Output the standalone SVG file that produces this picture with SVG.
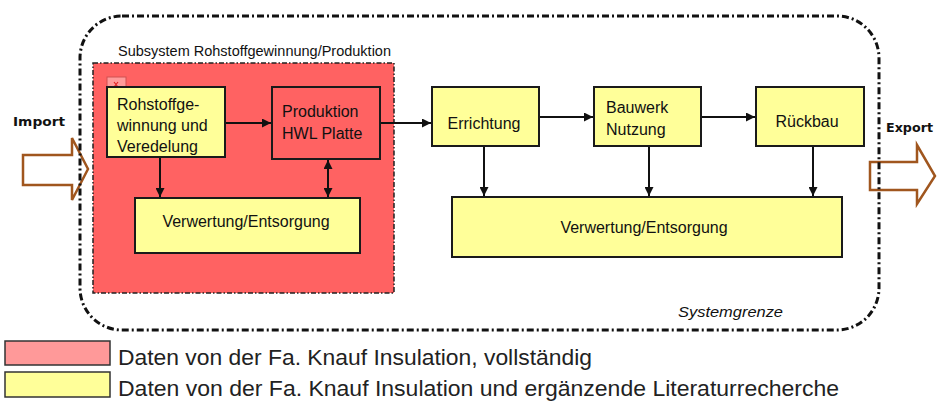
<svg xmlns="http://www.w3.org/2000/svg" width="938" height="401" viewBox="0 0 938 401">
<style>
.t{font-family:"Liberation Sans",Arial,sans-serif;font-size:16px;fill:#111}
.b{font-family:"DejaVu Sans",Verdana,sans-serif;font-size:12.5px;font-weight:bold;fill:#111}
.box{stroke:#1a1a1a;stroke-width:2}
.y{fill:#FFFF99}
.r{fill:#FF6262}
.c{stroke:#111;stroke-width:2;fill:none}
.io{fill:none;stroke:#A0561E;stroke-width:2.5;stroke-linejoin:miter}
.leg{font-family:"Liberation Sans",Arial,sans-serif;font-size:22px;fill:#222}
</style>
<defs>
<marker id="ah" viewBox="0 0 10 10" refX="10" refY="5" markerWidth="4.5" markerHeight="4.5" orient="auto-start-reverse" markerUnits="strokeWidth">
<path d="M0,0 L10,5 L0,10 z" fill="#111"/>
</marker>
</defs>
<rect width="938" height="401" fill="#fff"/>

<g id="import">
<polygon class="io" points="23,155 72,155 72,138 88,169 72,200 72,185 23,185"/>
<text class="b" x="13" y="126" textLength="52" lengthAdjust="spacingAndGlyphs">Import</text>
</g>
<g id="export">
<polygon class="io" points="870,162 917,162 917,145 935,176 917,204 917,190 870,190"/>
<text class="b" x="886" y="132" textLength="47" lengthAdjust="spacingAndGlyphs">Export</text>
</g>

<g id="systemgrenze">
<rect x="80" y="16" width="799" height="314" rx="42" ry="42" fill="none" stroke="#111" stroke-width="3" stroke-dasharray="7 3 2 3"/>
<text x="678" y="317" font-family="Liberation Sans,Arial,sans-serif" font-style="italic" font-size="14" fill="#111" textLength="105" lengthAdjust="spacingAndGlyphs">Systemgrenze</text>
</g>

<g id="subsystem">
<rect x="93" y="63" width="301" height="230" fill="#FF6262" stroke="#222" stroke-width="1.5" stroke-dasharray="5 2 1.5 2"/>
<text x="118" y="56" font-family="Liberation Sans,Arial,sans-serif" font-size="14" fill="#111" textLength="273" lengthAdjust="spacingAndGlyphs">Subsystem Rohstoffgewinnung/Produktion</text>
<rect x="107" y="77" width="19" height="19" fill="#FF9A9A" stroke="#D05050" stroke-width="1"/>
<path d="M114,82 L118,87 M118,82 L114,87" stroke="#E02020" stroke-width="1.2"/>
</g>

<g id="connectors">
<line class="c" x1="225" y1="123" x2="271" y2="123" marker-end="url(#ah)"/>
<line class="c" x1="380" y1="123" x2="431" y2="123" marker-end="url(#ah)"/>
<line class="c" x1="539" y1="117" x2="593" y2="117" marker-end="url(#ah)"/>
<line class="c" x1="701" y1="117" x2="755" y2="117" marker-end="url(#ah)"/>
<line class="c" x1="160" y1="157" x2="160" y2="197" marker-end="url(#ah)"/>
<line class="c" x1="328" y1="160" x2="328" y2="197" marker-start="url(#ah)" marker-end="url(#ah)"/>
<line class="c" x1="484" y1="146" x2="484" y2="196" marker-end="url(#ah)"/>
<line class="c" x1="649" y1="146" x2="649" y2="196" marker-end="url(#ah)"/>
<line class="c" x1="813" y1="146" x2="813" y2="196" marker-end="url(#ah)"/>
</g>

<g id="rohstoff">
<rect class="box y" x="107" y="87" width="118" height="70"/>
<text class="t" x="117" y="110">Rohstoffge-</text>
<text class="t" x="117" y="131">winnung und</text>
<text class="t" x="117" y="152">Veredelung</text>
</g>
<g id="produktion">
<rect class="box r" x="272" y="87" width="108" height="72"/>
<text class="t" x="282" y="117">Produktion</text>
<text class="t" x="282" y="139">HWL Platte</text>
</g>
<g id="verwertung1">
<rect class="box y" x="135" y="198" width="225" height="55"/>
<text class="t" x="246" y="227" text-anchor="middle">Verwertung/Entsorgung</text>
</g>
<g id="errichtung">
<rect class="box y" x="432" y="87" width="107" height="59"/>
<text class="t" x="484" y="129" text-anchor="middle">Errichtung</text>
</g>
<g id="bauwerk">
<rect class="box y" x="594" y="87" width="107" height="59"/>
<text class="t" x="606" y="113">Bauwerk</text>
<text class="t" x="606" y="135">Nutzung</text>
</g>
<g id="rueckbau">
<rect class="box y" x="756" y="87" width="108" height="59"/>
<text class="t" x="807" y="127" text-anchor="middle">Rückbau</text>
</g>
<g id="verwertung2">
<rect class="box y" x="452" y="197" width="390" height="60"/>
<text class="t" x="644" y="233" text-anchor="middle">Verwertung/Entsorgung</text>
</g>

<g id="legende">
<rect x="5" y="341" width="105" height="24" fill="#FF9999" stroke="#333" stroke-width="1.5"/>
<text class="leg" x="118" y="365" textLength="474" lengthAdjust="spacingAndGlyphs">Daten von der Fa. Knauf Insulation, vollständig</text>
<rect x="5" y="372" width="105" height="25" fill="#FFFF99" stroke="#333" stroke-width="1.5"/>
<text class="leg" x="118" y="396" textLength="721" lengthAdjust="spacingAndGlyphs">Daten von der Fa. Knauf Insulation und ergänzende Literaturrecherche</text>
</g>
</svg>
